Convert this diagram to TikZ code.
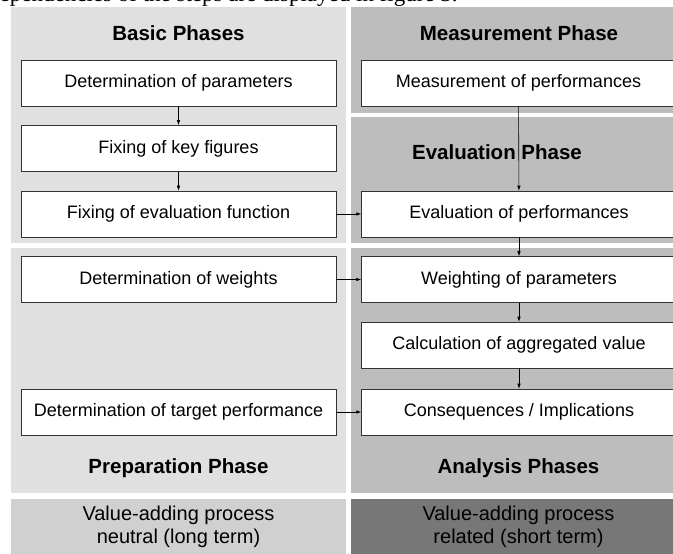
\documentclass[tikz,border=0pt]{standalone}
\usepackage{fontspec}
\setmainfont{Liberation Sans}
\newfontfamily\serifline{Liberation Serif}
\usetikzlibrary{arrows.meta,positioning}
\definecolor{lightpanel}{RGB}{224,224,224}
\definecolor{midpanel}{RGB}{189,189,189}
\definecolor{basepanel}{RGB}{208,208,208}
\definecolor{darkpanel}{RGB}{119,119,119}

\tikzset{
    stepbox/.style={draw=black!80, line width=0.5pt, fill=white,
        minimum width=315pt, minimum height=46pt, inner sep=0pt,
        font=\fontsize{18}{21}\selectfont},
    phasetitle/.style={font=\fontsize{20.5}{24}\selectfont\bfseries},
    valuetext/.style={align=center, font=\fontsize{20}{23}\selectfont},
    flow/.style={-{Latex[length=5pt,width=3.5pt]}, line width=0.6pt},
}

\begin{document}
\begin{tikzpicture}[x=1pt, y=1pt]
    \useasboundingbox (0,0) rectangle (673,554);
    \clip (0,0) rectangle (673,554);
    % Line of running text above the figure
    \node[anchor=base west, inner sep=0pt, font=\serifline\fontsize{23}{27}\selectfont]
        (caption) at (-12,552) {dependencies of the steps are displayed in figure 3.};
    % Panels
    \fill[lightpanel] (11,547) rectangle (346,311);
    \fill[lightpanel] (11,306) rectangle (346,61);
    \fill[basepanel] (11,55) rectangle (346,0);
    \fill[midpanel] (351,547) rectangle (686,441);
    \fill[midpanel] (351,437) rectangle (686,311);
    \fill[midpanel] (351,306) rectangle (686,61);
    \fill[darkpanel] (351,55) rectangle (686,0);
    % Titles
    \node[phasetitle] (basic) at (178.5,521) {Basic Phases};
    \node[phasetitle] (measure) at (519,521) {Measurement Phase};
    \node[phasetitle] (evaluate) at (497,402) {Evaluation Phase};
    \node[phasetitle] (prepare) at (178.5,86) {Preparation Phase};
    \node[phasetitle] (analyse) at (518.5,86) {Analysis Phases};
    \node[valuetext] (neutral) at (178.5,27) {Value-adding process\\neutral (long term)};
    \node[valuetext] (related) at (518.5,27) {Value-adding process\\related (short term)};
    % Left column
    \node[stepbox] (detpar) at (178.5,471) {Determination of parameters};
    \node[stepbox, below=19pt of detpar] (keyfig) {Fixing of key figures};
    \node[stepbox, below=19pt of keyfig] (evalfun) {Fixing of evaluation function};
    \node[stepbox, below=19pt of evalfun] (detwei) {Determination of weights};
    \node[stepbox, below=86pt of detwei] (dettar) {Determination of target performance};
    % Right column
    \node[stepbox] (measperf) at (518.5,471) {Measurement of performances};
    \node[stepbox, right=25pt of evalfun] (evalperf) {Evaluation of performances};
    \node[stepbox, right=25pt of detwei] (weighpar) {Weighting of parameters};
    \node[stepbox, below=19pt of weighpar] (calcagg) {Calculation of aggregated value};
    \node[stepbox, right=25pt of dettar] (conseq) {Consequences / Implications};
    % Arrows
    \draw[flow] (detpar) -- (keyfig);
    \draw[flow] (keyfig) -- (evalfun);
    \draw[flow] (measperf) -- (evalperf);
    \draw[flow] (evalperf) -- (weighpar);
    \draw[flow] (weighpar) -- (calcagg);
    \draw[flow] (calcagg) -- (conseq);
    \draw[flow] (evalfun) -- (evalperf);
    \draw[flow] (detwei) -- (weighpar);
    \draw[flow] (dettar) -- (conseq);
\end{tikzpicture}
\end{document}
